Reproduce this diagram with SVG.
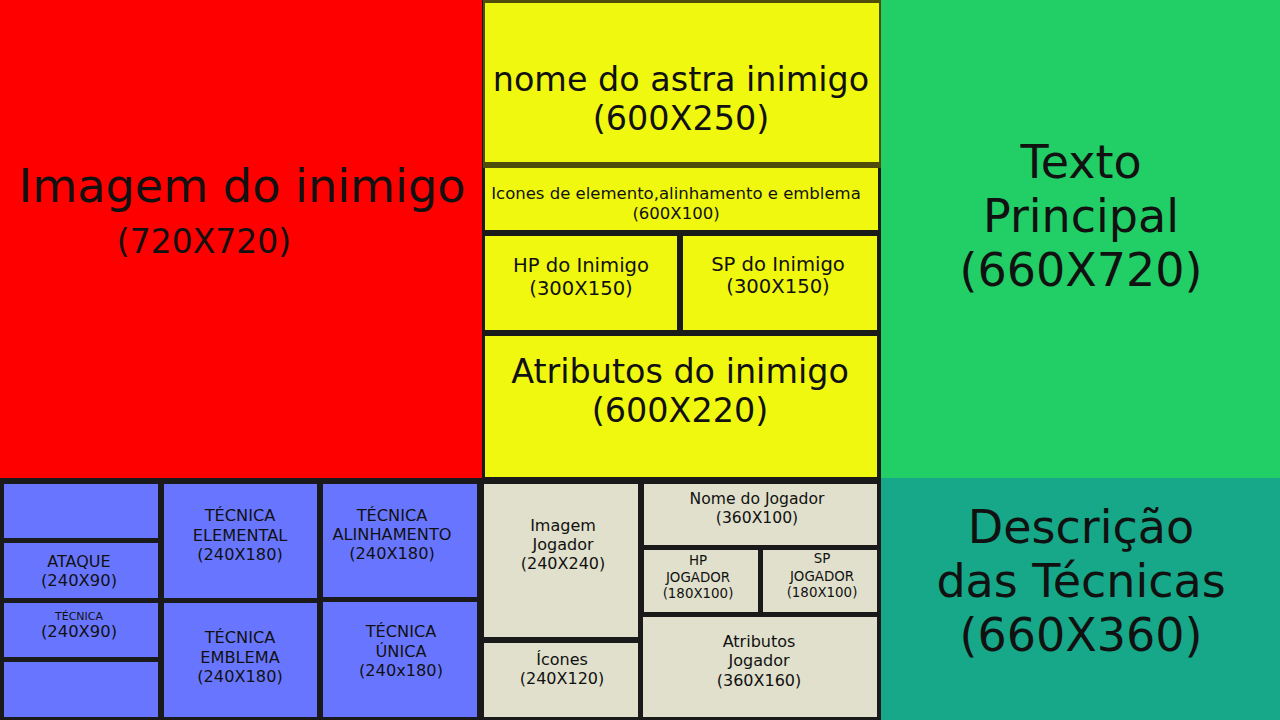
<svg xmlns="http://www.w3.org/2000/svg" width="1280" height="720" viewBox="0 0 1280 720">
<style>
text{font-family:"DejaVu Sans","Liberation Sans",sans-serif;fill:#111;text-anchor:middle}
.red{fill:#ff0000}.yel{fill:#f0f810}.grn{fill:#22ce66}.tea{fill:#16a888}.blu{fill:#6876ff}.bei{fill:#e0e0cc}
</style>
<rect x="0" y="0" width="881" height="720" fill="#1a1a1a"/>
<g id="imagem-inimigo">
<rect class="red" x="0" y="0" width="482" height="478"/>
<text x="242" y="202" font-size="46.2">Imagem do inimigo</text>
<text x="204" y="253" font-size="33">(720X720)</text>
</g>
<g id="nome-astra">
<rect x="483" y="0" width="398" height="168" fill="#4f4c0c"/>
<rect class="yel" x="485" y="3" width="394" height="159"/>
<text x="681" y="91" font-size="33.4">nome do astra inimigo</text>
<text x="681" y="130" font-size="33.4">(600X250)</text>
</g>
<g id="icones-inimigo">
<rect class="yel" x="485" y="168" width="393" height="62"/>
<text x="676" y="199" font-size="16.5">Icones de elemento,alinhamento e emblema</text>
<text x="676" y="219" font-size="16.5">(600X100)</text>
</g>
<g id="hp-inimigo">
<rect class="yel" x="485" y="236" width="192" height="94"/>
<text x="581" y="272" font-size="19.6">HP do Inimigo</text>
<text x="581" y="295" font-size="19.6">(300X150)</text>
</g>
<g id="sp-inimigo">
<rect class="yel" x="683" y="236" width="194" height="94"/>
<text x="778" y="271" font-size="19.6">SP do Inimigo</text>
<text x="778" y="293" font-size="19.6">(300X150)</text>
</g>
<g id="atributos-inimigo">
<rect class="yel" x="485" y="336" width="392" height="141"/>
<text x="680" y="383" font-size="33.4">Atributos do inimigo</text>
<text x="680" y="422" font-size="33.4">(600X220)</text>
</g>
<g id="texto-principal">
<rect class="grn" x="881" y="0" width="399" height="478"/>
<text x="1081" y="178" font-size="46">Texto</text>
<text x="1081" y="232" font-size="46">Principal</text>
<text x="1081" y="286" font-size="46">(660X720)</text>
</g>
<g id="descricao-tecnicas">
<rect class="tea" x="881" y="478" width="399" height="242"/>
<text x="1081" y="543" font-size="46">Descrição</text>
<text x="1081" y="597" font-size="46">das Técnicas</text>
<text x="1081" y="651" font-size="46">(660X360)</text>
</g>
<g id="vazio-1"><rect class="blu" x="4" y="484" width="154" height="54"/></g>
<g id="ataque">
<rect class="blu" x="4" y="543" width="154" height="55"/>
<text x="79" y="567" font-size="16">ATAQUE</text>
<text x="79" y="586" font-size="16.4">(240X90)</text>
</g>
<g id="tecnica">
<rect class="blu" x="4" y="603" width="154" height="54"/>
<text x="79" y="620" font-size="11">TÉCNICA</text>
<text x="79" y="637" font-size="16.4">(240X90)</text>
</g>
<g id="vazio-2"><rect class="blu" x="4" y="662" width="154" height="55"/></g>
<g id="tecnica-elemental">
<rect class="blu" x="164" y="484" width="153" height="114"/>
<text x="240" y="521" font-size="16.2">TÉCNICA</text>
<text x="240" y="541" font-size="16.2">ELEMENTAL</text>
<text x="240" y="560" font-size="16.2">(240X180)</text>
</g>
<g id="tecnica-emblema">
<rect class="blu" x="164" y="603" width="153" height="114"/>
<text x="240" y="643" font-size="16.2">TÉCNICA</text>
<text x="240" y="663" font-size="16.2">EMBLEMA</text>
<text x="240" y="682" font-size="16.2">(240X180)</text>
</g>
<g id="tecnica-alinhamento">
<rect class="blu" x="323" y="484" width="154" height="113"/>
<text x="392" y="521" font-size="16.2">TÉCNICA</text>
<text x="392" y="540" font-size="16.2">ALINHAMENTO</text>
<text x="392" y="559" font-size="16.2">(240X180)</text>
</g>
<g id="tecnica-unica">
<rect class="blu" x="323" y="602" width="154" height="115"/>
<text x="401" y="637" font-size="16.2">TÉCNICA</text>
<text x="401" y="657" font-size="16.2">ÚNICA</text>
<text x="401" y="676" font-size="16.2">(240x180)</text>
</g>
<g id="imagem-jogador">
<rect class="bei" x="484" y="484" width="154" height="153"/>
<text x="563" y="531" font-size="16">Imagem</text>
<text x="563" y="550" font-size="16">Jogador</text>
<text x="563" y="569" font-size="16">(240X240)</text>
</g>
<g id="icones-jogador">
<rect class="bei" x="484" y="643" width="154" height="74"/>
<text x="562" y="665" font-size="16">Ícones</text>
<text x="562" y="684" font-size="16">(240X120)</text>
</g>
<g id="nome-jogador">
<rect class="bei" x="644" y="484" width="233" height="61"/>
<text x="757" y="504" font-size="15.6">Nome do Jogador</text>
<text x="757" y="523" font-size="15.6">(360X100)</text>
</g>
<g id="hp-jogador">
<rect class="bei" x="644" y="550" width="114" height="62"/>
<text x="698" y="565" font-size="13.4">HP</text>
<text x="698" y="582" font-size="13.4">JOGADOR</text>
<text x="698" y="598" font-size="13.4">(180X100)</text>
</g>
<g id="sp-jogador">
<rect class="bei" x="763" y="550" width="114" height="62"/>
<text x="822" y="563" font-size="13.4">SP</text>
<text x="822" y="581" font-size="13.4">JOGADOR</text>
<text x="822" y="597" font-size="13.4">(180X100)</text>
</g>
<g id="atributos-jogador">
<rect class="bei" x="643" y="617" width="234" height="100"/>
<text x="759" y="647" font-size="16">Atributos</text>
<text x="759" y="666" font-size="16">Jogador</text>
<text x="759" y="686" font-size="16">(360X160)</text>
</g>
<g id="connectors"></g>
</svg>
